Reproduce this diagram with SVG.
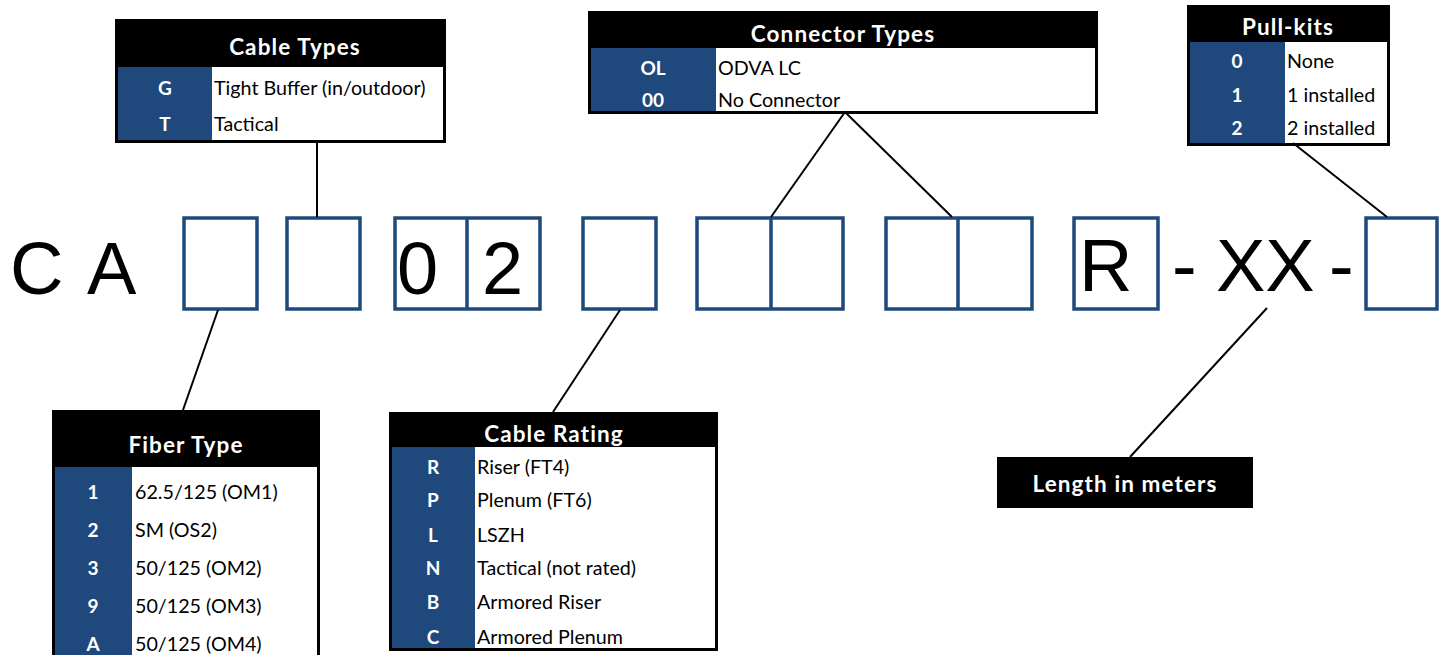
<svg xmlns="http://www.w3.org/2000/svg" width="1445" height="655" viewBox="0 0 1445 655">
<style>
.frame{fill:#000}
.cell{fill:#fff}
.key{fill:#1F497D}
.slot{fill:none;stroke:#1F497D;stroke-width:3.5}
.title{font-family:Lato,"Liberation Sans",sans-serif;font-weight:bold;font-size:22.5px;letter-spacing:1.1px;fill:#fff;text-anchor:middle}
.k{font-family:Lato,"Liberation Sans",sans-serif;font-weight:bold;font-size:19px;fill:#fff;text-anchor:middle}
.v{font-family:Lato,"Liberation Sans",sans-serif;font-size:19.7px;fill:#000}
.big{font-family:"Liberation Sans",Arial,sans-serif;font-size:74px;fill:#000}
.conn line{stroke:#000;stroke-width:2}
</style>
<rect width="1445" height="655" fill="#fff"/>

<g id="code">
<text class="big" x="10" y="294">C</text>
<text class="big" x="87" y="294">A</text>
<rect class="slot" x="184" y="218" width="73" height="91"/>
<rect class="slot" x="287" y="218" width="73" height="91"/>
<rect class="slot" x="395" y="218" width="145" height="91"/>
<line x1="467" y1="218" x2="467" y2="309" stroke="#1F497D" stroke-width="3.5"/>
<text class="big" x="397" y="294">0</text>
<text class="big" x="482" y="294">2</text>
<rect class="slot" x="583" y="218" width="73" height="91"/>
<rect class="slot" x="697" y="218" width="146" height="91"/>
<line x1="771" y1="218" x2="771" y2="309" stroke="#1F497D" stroke-width="3.5"/>
<rect class="slot" x="886" y="218" width="146" height="91"/>
<line x1="958" y1="218" x2="958" y2="309" stroke="#1F497D" stroke-width="3.5"/>
<rect class="slot" x="1074" y="218" width="84" height="91"/>
<text class="big" x="1079" y="291">R</text>
<text class="big" x="1172" y="291">-</text>
<text class="big" x="1216" y="291">XX</text>
<text class="big" x="1329" y="291">-</text>
<rect class="slot" x="1366" y="218" width="71" height="91"/>
</g>

<g id="cable-types">
<rect class="frame" x="115" y="19" width="331" height="124"/>
<rect class="cell" x="118" y="67" width="325" height="73"/>
<rect class="key" x="118" y="67" width="94" height="73"/>
<text class="title" x="295" y="55">Cable Types</text>
<text class="k" x="165" y="95">G</text>
<text class="v" x="214" y="95">Tight Buffer (in/outdoor)</text>
<text class="k" x="165" y="131">T</text>
<text class="v" x="214" y="131">Tactical</text>
</g>

<g id="connector-types">
<rect class="frame" x="588" y="11" width="510" height="103"/>
<rect class="cell" x="591" y="48" width="504" height="63"/>
<rect class="key" x="591" y="48" width="125" height="63"/>
<text class="title" x="843" y="42">Connector Types</text>
<text class="k" x="653" y="75">OL</text>
<text class="v" x="718" y="75">ODVA LC</text>
<text class="k" x="653" y="107">00</text>
<text class="v" x="718" y="107">No Connector</text>
</g>

<g id="pull-kits">
<rect class="frame" x="1187" y="5" width="203" height="141"/>
<rect class="cell" x="1190" y="42" width="197" height="101"/>
<rect class="key" x="1190" y="42" width="95" height="101"/>
<text class="title" x="1288" y="35">Pull-kits</text>
<text class="k" x="1237" y="68">0</text>
<text class="v" x="1287" y="68">None</text>
<text class="k" x="1237" y="102">1</text>
<text class="v" x="1287" y="102">1 installed</text>
<text class="k" x="1237" y="135">2</text>
<text class="v" x="1287" y="135">2 installed</text>
</g>

<g id="fiber-type">
<rect class="frame" x="52" y="410" width="268" height="250"/>
<rect class="cell" x="55" y="467" width="262" height="193"/>
<rect class="key" x="55" y="467" width="77" height="193"/>
<text class="title" x="186" y="453">Fiber Type</text>
<text class="k" x="93" y="499">1</text>
<text class="v" x="135" y="499">62.5/125 (OM1)</text>
<text class="k" x="93" y="537">2</text>
<text class="v" x="135" y="537">SM (OS2)</text>
<text class="k" x="93" y="575">3</text>
<text class="v" x="135" y="575">50/125 (OM2)</text>
<text class="k" x="93" y="613">9</text>
<text class="v" x="135" y="613">50/125 (OM3)</text>
<text class="k" x="93" y="651">A</text>
<text class="v" x="135" y="651">50/125 (OM4)</text>
</g>

<g id="cable-rating">
<rect class="frame" x="389" y="412" width="329" height="239"/>
<rect class="cell" x="392" y="447" width="323" height="201"/>
<rect class="key" x="392" y="447" width="83" height="201"/>
<text class="title" x="554" y="442">Cable Rating</text>
<text class="k" x="433" y="474">R</text>
<text class="v" x="477" y="474">Riser (FT4)</text>
<text class="k" x="433" y="507">P</text>
<text class="v" x="477" y="507">Plenum (FT6)</text>
<text class="k" x="433" y="542">L</text>
<text class="v" x="477" y="542">LSZH</text>
<text class="k" x="433" y="575">N</text>
<text class="v" x="477" y="575">Tactical (not rated)</text>
<text class="k" x="433" y="609">B</text>
<text class="v" x="477" y="609">Armored Riser</text>
<text class="k" x="433" y="644">C</text>
<text class="v" x="477" y="644">Armored Plenum</text>
</g>

<g id="length">
<rect class="frame" x="997" y="457" width="256" height="51"/>
<text class="title" x="1125" y="492">Length in meters</text>
</g>

<g id="connectors" class="conn">
<line x1="317" y1="143" x2="317" y2="217"/>
<line x1="218" y1="310" x2="183" y2="410"/>
<line x1="620" y1="310" x2="553" y2="412"/>
<line x1="845" y1="112" x2="771" y2="217"/>
<line x1="845" y1="112" x2="952" y2="217"/>
<line x1="1293" y1="143" x2="1387" y2="217"/>
<line x1="1267" y1="308" x2="1130" y2="457"/>
</g>
</svg>
